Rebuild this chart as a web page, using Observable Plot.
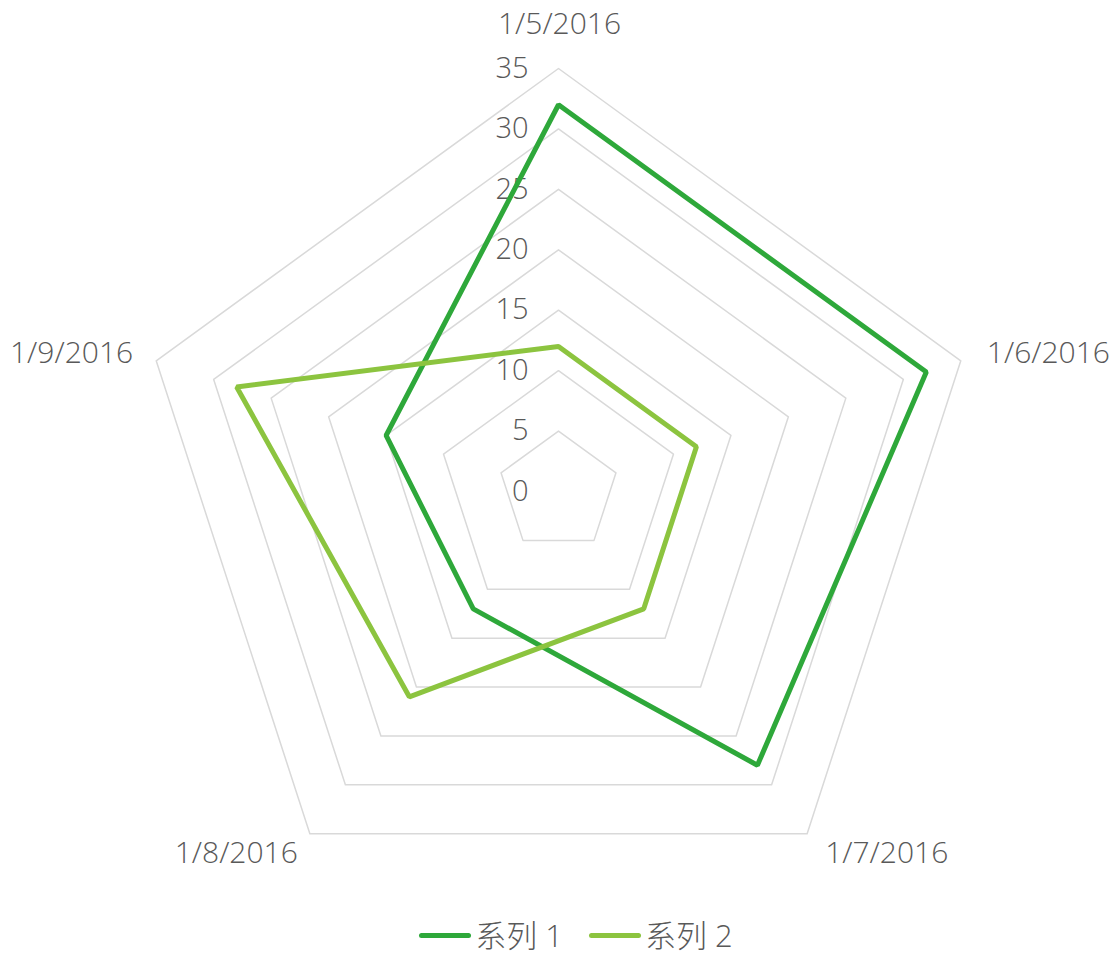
<!DOCTYPE html>
<html>
<head>
<meta charset="utf-8">
<script src="https://cdn.jsdelivr.net/npm/d3@7"></script>
<script src="https://cdn.jsdelivr.net/npm/@observablehq/plot@0.6"></script>
<style>
  html, body { margin: 0; background: #fff; font-family: "Open Sans", "Noto Sans CJK SC", sans-serif; overflow: hidden; }
  #chart svg { display: block; }
  #legend { display: flex; justify-content: center; align-items: center; height: 40px; font-size: 31px; line-height: 38px; font-weight: 300; color: #595959; padding-left: 40px; padding-top: 3px; }
  .item { display: flex; align-items: center; margin: 0 13px; }
  .swatch { width: 52px; height: 5px; border-radius: 3px; margin-right: 4px; }
</style>
</head>
<body>
<div id="chart"></div>
<div id="legend"></div>
<script>
const categories = ["1/5/2016", "1/6/2016", "1/7/2016", "1/8/2016", "1/9/2016"];
const seriesNames = ["系列 1", "系列 2"];
const series1 = [32, 32, 28, 12, 15];
const series2 = [12, 12, 12, 21, 28];
const tickValues = [0, 5, 10, 15, 20, 25, 30, 35];
const colors = ["#2ea83a", "#8cc43f"];

const W = 1112, H = 912, cx = 558, cy = 491, maxV = 35, R = 423;
const k = R / maxV;
const n = categories.length;
const angle = i => (2 * Math.PI * i) / n;
const px = (v, i) => v * Math.sin(angle(i));
const py = (v, i) => v * Math.cos(angle(i));

// grid rings
const grid = [];
tickValues.filter(t => t > 0).forEach(t => {
  for (let i = 0; i < n; i++) grid.push({t, x: px(t, i), y: py(t, i)});
});

// series points
const pts = [];
[series1, series2].forEach((s, si) => {
  s.forEach((v, i) => pts.push({series: seriesNames[si], x: px(v, i), y: py(v, i)}));
});

// category labels with offsets
const labelOffsets = [
  {dx: 1, dy: -44, anchor: "middle"},
  {dx: 26, dy: -7, anchor: "start"},
  {dx: 18, dy: 20, anchor: "start"},
  {dx: -12, dy: 20, anchor: "end"},
  {dx: -23, dy: -7, anchor: "end"}
];
const catLabels = categories.map((c, i) => ({label: c, x: px(maxV, i), y: py(maxV, i), i}));

const marks = [
  Plot.line(grid, {x: "x", y: "y", z: "t", curve: "linear-closed", stroke: "#d9d9d9", strokeWidth: 1.5}),
  Plot.text(tickValues, {x: () => 0, y: d => d, text: d => String(d), dx: -30, textAnchor: "end", fill: "#595959", fontSize: 29, fontWeight: 300}),
  Plot.line(pts, {x: "x", y: "y", z: "series", stroke: "series", curve: "linear-closed", strokeWidth: 5, strokeLinejoin: "miter"})
];
catLabels.forEach((d, i) => {
  const o = labelOffsets[i];
  marks.push(Plot.text([d], {x: "x", y: "y", text: "label", dx: o.dx, dy: o.dy, textAnchor: o.anchor, fill: "#595959", fontSize: 30, fontWeight: 300}));
});

const chart = Plot.plot({
  width: W, height: H,
  margin: 0,
  x: {domain: [-cx / k, (W - cx) / k], range: [0, W], axis: null},
  y: {domain: [-(H - cy) / k, cy / k], range: [H, 0], axis: null},
  color: {domain: seriesNames, range: colors},
  style: {fontFamily: '"Open Sans", "Noto Sans CJK SC", sans-serif', background: "#fff"},
  marks
});
document.getElementById("chart").appendChild(chart);

const legend = document.getElementById("legend");
seriesNames.forEach((s, i) => {
  const item = document.createElement("div");
  item.className = "item";
  const sw = document.createElement("div");
  sw.className = "swatch";
  sw.style.background = colors[i];
  const lab = document.createElement("span");
  lab.textContent = s;
  item.appendChild(sw); item.appendChild(lab);
  legend.appendChild(item);
});
</script>
</body>
</html>
